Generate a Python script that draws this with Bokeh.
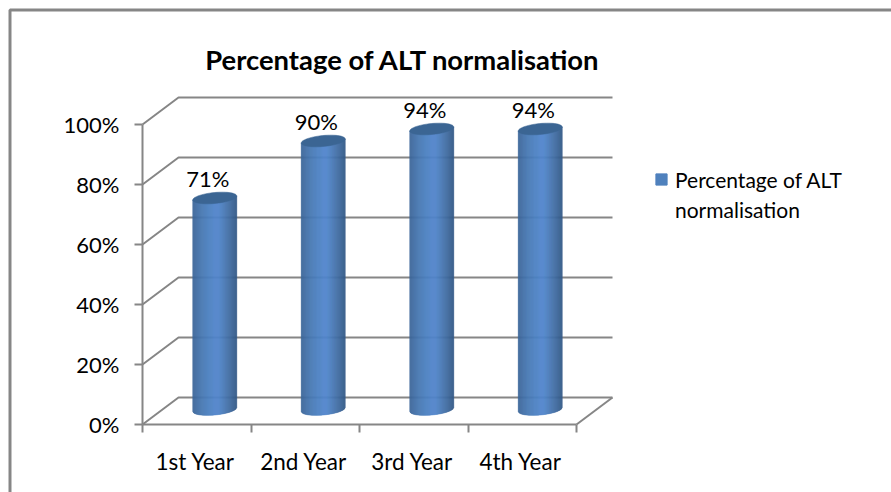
import numpy as np
from bokeh.plotting import figure
from bokeh.embed import file_html
from bokeh.resources import INLINE
from bokeh.models import Range1d, FixedTicker, Legend, LegendItem, ColumnDataSource
from bokeh.core.properties import value

categories = ["1st Year", "2nd Year", "3rd Year", "4th Year"]
percent = [71, 90, 94, 94]
y_ticks = [0, 20, 40, 60, 80, 100]
y_labels = ["0%", "20%", "40%", "60%", "80%", "100%"]
title_text = "Percentage of ALT normalisation"
legend_lines = ["Percentage of ALT", "normalisation"]

FONT = "Lato"
GREY = "#868686"
PX_X = 108.5             # canvas px per category
PX_Y = 3.0               # canvas px per percent
W, H = 891, 492
X0, Y0 = 142, 424        # canvas position of the axes origin
DEPTH_X = 36 / PX_X
DEPTH_Y = 27 / PX_Y
HALF_W = 22 / PX_X
CAP_B = 5.5 / PX_Y
SHEAR = 2 / PX_Y
LABEL_POS = 0.485        # where a category's label sits within its slot


def dx(px):
    return (px - X0) / PX_X


def dy(px):
    return (Y0 - px) / PX_Y


p = figure(width=W, height=H, output_backend="svg", toolbar_location=None,
           x_range=Range1d(dx(0), dx(W)), y_range=Range1d(dy(H), dy(0)),
           min_border=0)
p.outline_line_color = None
p.grid.visible = False

# Axes
xa, ya = p.xaxis[0], p.yaxis[0]
xa.fixed_location = 0
ya.fixed_location = 0
xa.bounds = (0, 4)
xa.ticker = FixedTicker(ticks=[i + LABEL_POS for i in range(4)], minor_ticks=list(range(5)))
xa.major_label_overrides = {i + LABEL_POS: c for i, c in enumerate(categories)}
xa.major_tick_in = 0; xa.major_tick_out = 0
xa.minor_tick_in = 0; xa.minor_tick_out = 8
xa.minor_tick_line_color = GREY; xa.minor_tick_line_width = 2
xa.major_label_standoff = 15
xa.major_label_text_font_size = "22.5px"
ya.bounds = (0, 100)
ya.ticker = FixedTicker(ticks=y_ticks, minor_ticks=[])
ya.major_label_overrides = dict(zip(y_ticks, y_labels))
ya.major_tick_in = 0; ya.major_tick_out = 8
ya.major_tick_line_color = GREY; ya.major_tick_line_width = 2
ya.major_label_standoff = 15
ya.major_label_text_font_size = "22px"
for a in (xa, ya):
    a.axis_line_color = GREY; a.axis_line_width = 2
    a.major_label_text_font = FONT
    a.major_label_text_color = "#000000"

# Chart border
p.line([dx(1000), dx(9.5), dx(9.5)], [dy(9.5), dy(9.5), dy(600)], line_color=GREY, line_width=3)

# 3D walls
for v in y_ticks:
    p.line([0, DEPTH_X, 4 + DEPTH_X], [v, v + DEPTH_Y, v + DEPTH_Y], line_color=GREY, line_width=2)
p.line([4, 4 + DEPTH_X], [0, DEPTH_Y], line_color=GREY, line_width=2)

# Cylinders
stops_t = [0, 0.25, 0.5, 0.6, 0.8, 1]
stops_c = np.array([[0x3d, 0x66, 0x99], [0x49, 0x7b, 0xb7], [0x50, 0x85, 0xca],
                    [0x50, 0x85, 0xca], [0x45, 0x72, 0xa9], [0x33, 0x5a, 0x88]], float)
N = 44
for i, v in enumerate(percent):
    cx = i + 0.5 + DEPTH_X / 2
    base = DEPTH_Y / 2 + 1.5 / PX_Y
    top = v + DEPTH_Y / 2
    edges = np.linspace(-1, 1, N + 1)
    xs, ys, cols = [], [], []
    for a, b in zip(edges[:-1], edges[1:]):
        m = (a + b) / 2
        rgb = [np.interp((m + 1) / 2, stops_t, stops_c[:, k]) for k in range(3)]
        cols.append("#%02x%02x%02x" % tuple(int(c) for c in rgb))
        low = lambda u: base - CAP_B * np.sqrt(max(0, 1 - u * u)) + SHEAR * u
        xs.append([cx + a * HALF_W, cx + b * HALF_W, cx + b * HALF_W, cx + a * HALF_W])
        ys.append([low(a), low(b), top + SHEAR * b, top + SHEAR * a])
    p.patches(xs, ys, fill_color=cols, line_color=cols, line_width=0.5)
    t = np.linspace(0, 2 * np.pi, 60)
    p.patch(cx + HALF_W * np.cos(t), top + CAP_B * np.sin(t) + SHEAR * np.cos(t),
            fill_color="#3b6593", line_color="#3b6593", line_width=0.5)

# Data labels
src = ColumnDataSource(dict(x=[i + 0.5 + DEPTH_X / 2 for i in range(4)],
                            y=[v + DEPTH_Y / 2 for v in percent],
                            t=[f"{v}%" for v in percent]))
p.text("x", "y", "t", source=src, text_align="center", text_baseline="middle",
       x_offset=-7, y_offset=-20, text_font=value(FONT), text_font_size="22px", text_color="#000000")

# Chart title
p.text([dx(402.5)], [dy(58.5)], [title_text], text_align="center", text_baseline="middle",
       text_font=value(FONT), text_font_size="27.4px", text_font_style="bold", text_color="#000000")

# Legend: swatches take their look from off-canvas glyphs; second row is only wrapped text
off = dx(-100)
swatch = p.quad(left=[off], right=[off], top=[dy(-100)], bottom=[dy(-100)],
                fill_color="#4f81bd", line_color="#4f81bd")
blank = p.quad(left=[off], right=[off], top=[dy(-100)], bottom=[dy(-100)],
               fill_alpha=0, line_alpha=0)
leg = Legend(items=[LegendItem(label=legend_lines[0], renderers=[swatch]),
                    LegendItem(label=legend_lines[1], renderers=[blank])],
             location=(654, 268),
             border_line_color=None, background_fill_alpha=0, glyph_width=14, glyph_height=14,
             label_text_font=FONT, label_text_font_size="21px", label_text_color="#000000",
             label_height=30, spacing=0, margin=0, padding=0, label_standoff=7)
p.add_layout(leg, "center")

open("out.html", "w").write(file_html(p, INLINE))
